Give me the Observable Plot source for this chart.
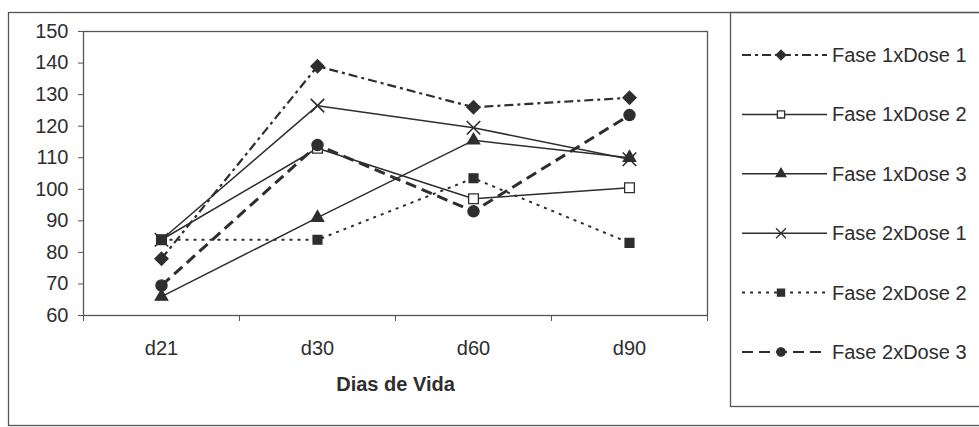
<!DOCTYPE html>
<html>
<head>
<meta charset="utf-8">
<script src="https://cdn.jsdelivr.net/npm/d3@7"></script>
<script src="https://cdn.jsdelivr.net/npm/@observablehq/plot@0.6"></script>
<style>
  html, body { margin: 0; padding: 0; background: #fff; }
  #chart { position: relative; width: 979px; height: 427px; }
</style>
</head>
<body>
<div id="chart"></div>
<script>
// ---- Data ----
const categories = ["d21", "d30", "d60", "d90"];
const seriesNames = ["Fase 1xDose 1", "Fase 1xDose 2", "Fase 1xDose 3", "Fase 2xDose 1", "Fase 2xDose 2", "Fase 2xDose 3"];
const fase1Dose1 = [78, 139, 126, 129];
const fase1Dose2 = [84, 113, 97, 100.5];
const fase1Dose3 = [66, 91, 115.5, 110];
const fase2Dose1 = [84, 126.5, 119.5, 109.5];
const fase2Dose2 = [84, 84, 103.5, 83];
const fase2Dose3 = [69.5, 114, 93, 123.5];
const yTickValues = [60, 70, 80, 90, 100, 110, 120, 130, 140, 150];
const xAxisTitle = "Dias de Vida";

const seriesValues = [fase1Dose1, fase1Dose2, fase1Dose3, fase2Dose1, fase2Dose2, fase2Dose3];

// ---- Styles ----
const ink = "#2e2e2e";
const styles = [
  {dash: "9,4,3,4", width: 2.2, symbol: "diamond2", r: 5.9, fill: ink, lr: 4.4},
  {dash: null, width: 1.5, symbol: "square2", r: 6.2, fill: "#fff", lr: 4.6},
  {dash: null, width: 1.5, symbol: "triangle", r: 4.6, fill: ink, lr: 3.6},
  {dash: null, width: 1.5, symbol: "times", r: 6.2, fill: "none", lr: 4.6},
  {dash: "3,5", width: 2.0, symbol: "square", r: 5.0, fill: ink, lr: 4.0},
  {dash: "11,6", width: 3.0, symbol: "circle", r: 5.6, fill: ink, lr: 4.2}
];

const data = seriesNames.flatMap((name, s) =>
  seriesValues[s].map((v, i) => ({series: name, idx: s, x: i + 0.5, y: v}))
);

const lineMarks = seriesNames.map((name, s) =>
  Plot.line(data.filter(d => d.idx === s), {
    x: "x", y: "y", stroke: ink, strokeWidth: styles[s].width,
    strokeDasharray: styles[s].dash || undefined, strokeLinecap: "butt"
  })
);
const dotMarks = seriesNames.map((name, s) =>
  Plot.dot(data.filter(d => d.idx === s), {
    x: "x", y: "y", symbol: styles[s].symbol, r: styles[s].r,
    fill: styles[s].fill, stroke: ink,
    strokeWidth: styles[s].symbol === "times" ? 1.6 : 1.3
  })
);

const chart = Plot.plot({
  width: 979,
  height: 427,
  marginLeft: 83,
  marginRight: 272,
  marginTop: 31,
  marginBottom: 112,
  x: {domain: [0, categories.length]},
  y: {domain: [60, 150]},
  style: {fontFamily: "'Liberation Sans', Arial, sans-serif", fontSize: "20px", color: ink, background: "#fff"},
  marks: [
    Plot.frame({stroke: "#555", strokeWidth: 1.3}),
    Plot.axisY({ticks: yTickValues, tickSize: 5, tickPadding: 10, label: null, stroke: "#555"}),
    Plot.axisX({ticks: d3.range(categories.length + 1), tickSize: 6, tickFormat: () => "", label: null, stroke: "#555"}),
    Plot.axisX({ticks: categories.map((c, i) => i + 0.5), tickSize: 0, tickPadding: 25,
      tickFormat: d => categories[Math.round(d - 0.5)], label: null}),
    Plot.text([xAxisTitle], {frameAnchor: "bottom", dy: 75, fontWeight: "bold", fontSize: 20, fill: ink}),
    ...lineMarks,
    ...dotMarks
  ]
});

document.getElementById("chart").appendChild(chart);

// ---- Borders & legend ----
const svg = d3.select(chart);
svg.append("rect").attr("x", 8.5).attr("y", 12.5).attr("width", 1000).attr("height", 413)
  .attr("fill", "none").attr("stroke", "#555").attr("stroke-width", 1.3);
svg.append("rect").attr("x", 730.5).attr("y", 12.5).attr("width", 300).attr("height", 394)
  .attr("fill", "none").attr("stroke", "#555").attr("stroke-width", 1.3);

const symbolMap = {
  diamond2: d3.symbolDiamond2, square2: d3.symbolSquare2, triangle: d3.symbolTriangle,
  times: d3.symbolTimes, square: d3.symbolSquare, circle: d3.symbolCircle
};
const ly = d3.scalePoint().domain(seriesNames).range([55, 352]);
const leg = svg.append("g")
  .attr("font-family", "'Liberation Sans', Arial, sans-serif")
  .attr("font-size", 20)
  .attr("text-anchor", "start");
seriesNames.forEach((name, s) => {
  const st = styles[s];
  const y = ly(name);
  const g = leg.append("g");
  g.append("line").attr("x1", 742).attr("x2", 827).attr("y1", y).attr("y2", y)
    .attr("stroke", ink).attr("stroke-width", Math.min(st.width, 2.2))
    .attr("stroke-dasharray", st.dash);
  g.append("path").attr("transform", `translate(781,${y})`)
    .attr("d", d3.symbol(symbolMap[st.symbol], Math.PI * st.lr * st.lr)())
    .attr("fill", st.fill).attr("stroke", ink).attr("stroke-width", 1.3);
  g.append("text").attr("x", 832).attr("y", y).attr("dy", "0.35em")
    .attr("text-anchor", "start").attr("fill", ink).text(name);
});
</script>
</body>
</html>
